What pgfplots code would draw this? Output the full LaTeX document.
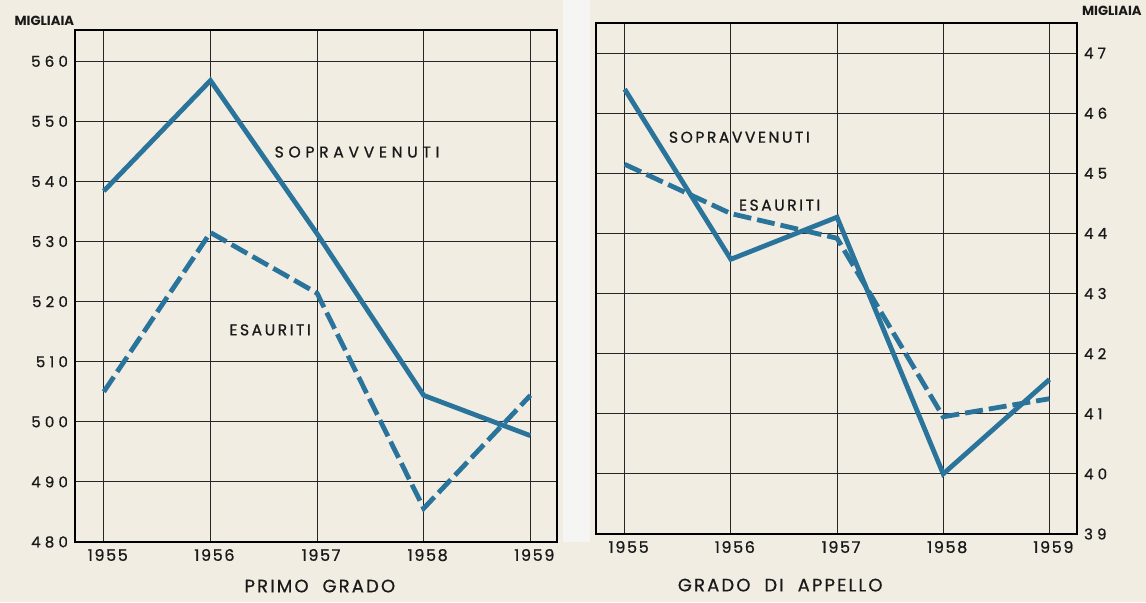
\documentclass[border=0pt]{standalone}
\usepackage{pgfplots}
\pgfplotsset{compat=1.18}
\usepackage{fontspec}
\setmainfont{Poppins}
\newfontfamily\spaced[LetterSpace=10,FakeBold=0.8]{Poppins}
\newfontfamily\spacedy[LetterSpace=28,FakeBold=0.8]{Poppins}
\newfontfamily\spacedlab[LetterSpace=16,FakeBold=0.8]{Poppins}
\newfontfamily\spacedlabw[LetterSpace=30,FakeBold=0.8]{Poppins}
\newfontfamily\spacedwide[LetterSpace=12,FakeBold=0.6]{Poppins}
\definecolor{cream}{RGB}{241,237,226}
\definecolor{gapc}{RGB}{245,245,243}
\definecolor{plotblue}{RGB}{42,116,156}
\tikzset{
  sop/.style={plotblue,line width=2.4pt},
  esa/.style={plotblue,line width=2.4pt,dash pattern=on 9pt off 3pt},
  inlab/.style={font=\spacedlab\fontsize{7.8}{8}\selectfont, text=black!90},
  inlabw/.style={font=\spacedlabw\fontsize{7.8}{8}\selectfont, text=black!90},
  xlab/.style={font=\spacedwide\fontsize{9}{10}\selectfont, text=black!90},
  mig/.style={font=\fontsize{6.6}{7}\selectfont\bfseries, text=black!90},
}
\begin{document}
\begin{tikzpicture}
\useasboundingbox (0pt,0pt) rectangle (573pt,301pt);
\fill[cream] (0pt,0pt) rectangle (573pt,301pt);
\fill[gapc] (281.5pt,30pt) rectangle (295pt,301pt);
\pgfplotsset{
  every axis/.append style={
    scale only axis,
    axis background/.style={fill=cream},
    grid=major,
    major grid style={black!85,line width=0.5pt},
    axis line style={black,line width=0.9pt},
    major tick length=0pt,
    xtick={1955,1956,1957,1958,1959},
    /pgf/number format/assume math mode=true,
    /pgf/number format/1000 sep={},
    ticklabel style={font=\spacedy\fontsize{7.5}{8}\selectfont, text=black!90},
    xticklabel style={font=\spaced\fontsize{8}{9}\selectfont, xshift=2pt},
    clip=false,
  },
}
\begin{axis}[
  at={(37.5pt,30pt)}, anchor=south west,
  width=241pt, height=256pt,
  xmin=1954.73, xmax=1959.25, ymin=480, ymax=565.2,
  ytick={480,490,...,560},
]
\addplot[sop] coordinates {(1955,538.4) (1956,556.8) (1957,531.3) (1958,504.4) (1959,497.7)};
\addplot[esa] coordinates {(1955,505.0) (1956,531.5) (1957,521.4) (1958,485.6) (1959,504.4)};
\node[inlabw] at (axis cs:1957.375,544.9) {SOPRAVVENUTI};
\node[inlab] at (axis cs:1956.56,515.3) {ESAURITI};
\node[mig, anchor=south west] at (rel axis cs:-0.14,0.995) {MIGLIAIA};
\node[xlab] at (rel axis cs:0.508,-0.086) {PRIMO\ \ GRADO};
\end{axis}
\begin{axis}[
  at={(298pt,34pt)}, anchor=south west,
  width=240.5pt, height=255.5pt,
  xmin=1954.73, xmax=1959.26, ymin=39, ymax=47.5,
  ytick={39,40,...,47},
  yticklabel pos=right,
]
\addplot[sop] coordinates {(1955,46.4) (1956,43.57) (1957,44.27) (1958,40.0) (1959,41.57)};
\addplot[esa] coordinates {(1955,45.15) (1956,44.33) (1957,43.92) (1958,40.95) (1959,41.25)};
\node[inlab] at (axis cs:1956.08,45.6) {SOPRAVVENUTI};
\node[inlab] at (axis cs:1956.46,44.47) {ESAURITI};
\node[mig, anchor=south west, xshift=-1pt] at (rel axis cs:1.0,1.0) {MIGLIAIA};
\node[xlab] at (rel axis cs:0.383,-0.1) {GRADO\ \ DI\ \ APPELLO};
\end{axis}
\end{tikzpicture}
\end{document}
